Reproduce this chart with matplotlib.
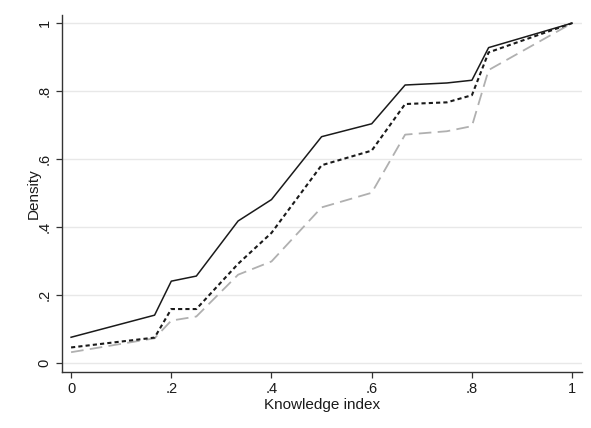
import matplotlib
matplotlib.use("Agg")
import matplotlib.pyplot as plt

plt.rcParams['font.family'] = ['Liberation Sans', 'DejaVu Sans']

knowledge = [0, 1/6, 0.2, 0.25, 1/3, 0.4, 0.5, 0.6, 2/3, 0.75, 0.8, 5/6, 1.0]
solid_vals = [0.076, 0.141, 0.241, 0.256, 0.418, 0.481, 0.666, 0.704, 0.818, 0.824, 0.832, 0.928, 1.0]
dotted_vals = [0.046, 0.075, 0.159, 0.159, 0.292, 0.383, 0.582, 0.625, 0.762, 0.767, 0.788, 0.914, 1.0]
dashed_vals = [0.032, 0.073, 0.125, 0.137, 0.26, 0.299, 0.458, 0.501, 0.672, 0.682, 0.697, 0.862, 1.0]

xticks = [0, 0.2, 0.4, 0.6, 0.8, 1.0]
xtick_labels = ['0', '.2', '.4', '.6', '.8', '1']
yticks = [0, 0.2, 0.4, 0.6, 0.8, 1.0]
ytick_labels = ['0', '.2', '.4', '.6', '.8', '1']

fig = plt.figure(figsize=(5.91, 4.28), dpi=100)
ax = fig.add_axes([0.105, 0.131, 0.88, 0.834])

ax.plot(knowledge, dashed_vals, color='#b0b0b0', lw=1.3, ls=(0, (7, 3.5)))
ax.plot(knowledge, dotted_vals, color='#1a1a1a', lw=1.5, ls=(0, (2, 1.5)))
ax.plot(knowledge, solid_vals, color='#1a1a1a', lw=1.1, ls='-')

ax.set_xlim(-0.018, 1.02)
ax.set_ylim(-0.026, 1.024)
ax.set_xticks(xticks)
ax.set_xticklabels(xtick_labels)
ax.set_yticks(yticks)
ax.set_yticklabels(ytick_labels, rotation=90, va='center')
ax.grid(axis='y', color='#e8e8e8', lw=1.0)
ax.set_axisbelow(True)
for s in ['top', 'right']:
    ax.spines[s].set_visible(False)
for s in ['left', 'bottom']:
    ax.spines[s].set_color('#333333')
    ax.spines[s].set_linewidth(1.0)
ax.tick_params(colors='#333333', labelcolor='#1a1a1a', labelsize=10.5, length=4, width=0.9)
ax.set_xlabel('Knowledge index', fontsize=11, color='#1a1a1a', labelpad=1)
ax.set_ylabel('Density', fontsize=11, color='#1a1a1a', labelpad=-2)

fig.savefig('out.png', dpi=100, facecolor='white')
